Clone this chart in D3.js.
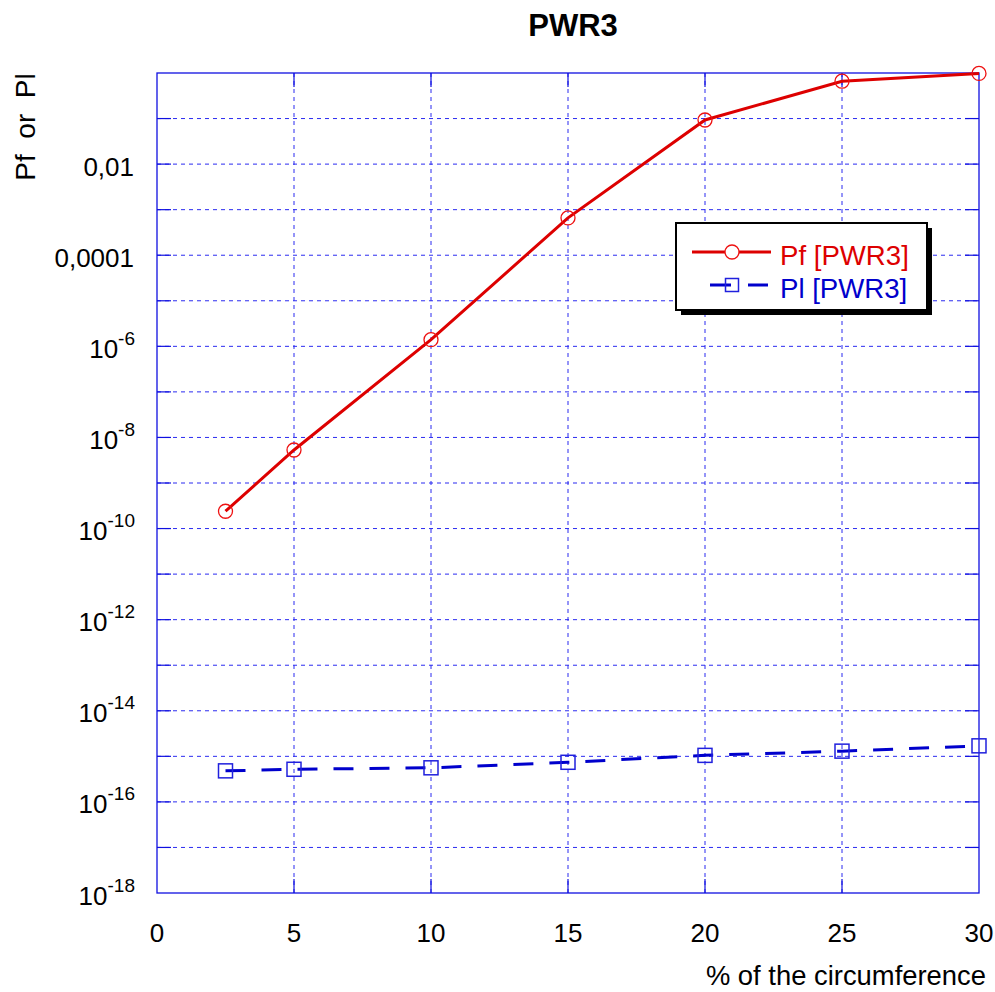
<!DOCTYPE html>
<html>
<head>
<meta charset="utf-8">
<script src="https://cdn.jsdelivr.net/npm/d3@7"></script>
<style>
  html, body { margin: 0; padding: 0; background: #fff; }
  svg { display: block; font-family: "Liberation Sans", Arial, sans-serif; }
</style>
</head>
<body>
<svg id="chart" width="995" height="992"></svg>
<script>
// Percent of the circumference
const circumference = [2.5, 5, 10, 15, 20, 25, 30];
// Failure probability Pf [PWR3]
const pfValues = [2.4e-10, 5.3e-9, 1.4e-6, 6.6e-4, 0.093, 0.66, 0.98];
// Leak probability Pl [PWR3]
const plValues = [4.8e-16, 5.2e-16, 5.6e-16, 7.4e-16, 1.05e-15, 1.3e-15, 1.7e-15];

const xTicks = [0, 5, 10, 15, 20, 25, 30];
const yGridExponents = d3.range(-17, 0);
const yLabelExponents = [-2, -4, -6, -8, -10, -12, -14, -16, -18];
const seriesNames = ["Pf [PWR3]", "Pl [PWR3]"];

const svg = d3.select("#chart");
const plotLeft = 157, plotRight = 979, plotTop = 73, plotBottom = 893;
const x = d3.scaleLinear().domain([0, 30]).range([plotLeft, plotRight]);
const y = d3.scaleLog().domain([1e-18, 1]).range([plotBottom, plotTop]);

const gridColor = "#2b2bf0";
const axisColor = "#1010e0";

// grid
const grid = svg.append("g");
grid.selectAll("line.h").data(yGridExponents).join("line")
  .attr("x1", plotLeft).attr("x2", plotRight)
  .attr("y1", d => y(Math.pow(10, d))).attr("y2", d => y(Math.pow(10, d)))
  .attr("stroke", gridColor).attr("stroke-width", 1).attr("stroke-dasharray", "4,4");
grid.selectAll("line.v").data(xTicks.slice(1, -1)).join("line")
  .attr("x1", d => x(d)).attr("x2", d => x(d))
  .attr("y1", plotTop).attr("y2", plotBottom)
  .attr("stroke", gridColor).attr("stroke-width", 1).attr("stroke-dasharray", "4,4");

// inner tick marks
const tickLen = 14;
const ticks = svg.append("g").attr("stroke", axisColor).attr("stroke-width", 1.2);
yGridExponents.forEach(e => {
  const yy = y(Math.pow(10, e));
  ticks.append("line").attr("x1", plotLeft).attr("x2", plotLeft + tickLen).attr("y1", yy).attr("y2", yy);
  ticks.append("line").attr("x1", plotRight - tickLen).attr("x2", plotRight).attr("y1", yy).attr("y2", yy);
});
xTicks.slice(1, -1).forEach(t => {
  ticks.append("line").attr("x1", x(t)).attr("x2", x(t)).attr("y1", plotBottom).attr("y2", plotBottom - tickLen);
  ticks.append("line").attr("x1", x(t)).attr("x2", x(t)).attr("y1", plotTop).attr("y2", plotTop + tickLen);
});

// frame
svg.append("rect").attr("x", plotLeft).attr("y", plotTop)
  .attr("width", plotRight - plotLeft).attr("height", plotBottom - plotTop)
  .attr("fill", "none").attr("stroke", axisColor).attr("stroke-width", 1.3);

// x tick labels
svg.append("g").selectAll("text").data(xTicks).join("text")
  .attr("x", d => x(d)).attr("y", 942)
  .attr("text-anchor", "middle").attr("font-size", 26).attr("fill", "#000")
  .text(d => d);

// y tick labels
const yLab = svg.append("g").attr("font-size", 26).attr("fill", "#000");
yLabelExponents.forEach(e => {
  const yy = y(Math.pow(10, e));
  if (e >= -4) {
    yLab.append("text").attr("x", 134).attr("y", yy + 11.5).attr("text-anchor", "end")
      .text(e === -2 ? "0,01" : "0,0001");
  } else {
    const t = yLab.append("text").attr("x", 135).attr("y", yy + 11.5).attr("text-anchor", "end");
    t.append("tspan").text("10");
    t.append("tspan").attr("dy", -13).attr("font-size", 19).text(String(e));
  }
});

// title and axis titles
svg.append("text").attr("x", 573).attr("y", 36).attr("text-anchor", "middle")
  .attr("font-size", 31).attr("font-weight", "bold").text("PWR3");
svg.append("text").attr("x", 986).attr("y", 985).attr("text-anchor", "end")
  .attr("font-size", 27.4).text("% of the circumference");
svg.append("text").attr("transform", "translate(35,127) rotate(-90)")
  .attr("text-anchor", "middle").attr("font-size", 28).style("white-space", "pre")
  .text("Pf  or  Pl");

// series
const redColor = "#dd0000", blueColor = "#0000cc";
const pfData = circumference.map((c, i) => [c, pfValues[i]]);
const plData = circumference.map((c, i) => [c, plValues[i]]);
const line = d3.line().x(d => x(d[0])).y(d => y(d[1]));

svg.append("path").datum(plData).attr("d", line)
  .attr("fill", "none").attr("stroke", blueColor).attr("stroke-width", 3)
  .attr("stroke-dasharray", "20,16");
svg.append("g").selectAll("rect").data(plData).join("rect")
  .attr("x", d => x(d[0]) - 7).attr("y", d => y(d[1]) - 7)
  .attr("width", 14).attr("height", 14)
  .attr("fill", "none").attr("stroke", "#2020dd").attr("stroke-width", 1.5);

svg.append("path").datum(pfData).attr("d", line)
  .attr("fill", "none").attr("stroke", redColor).attr("stroke-width", 3);
svg.append("g").selectAll("circle").data(pfData).join("circle")
  .attr("cx", d => x(d[0])).attr("cy", d => y(d[1])).attr("r", 7)
  .attr("fill", "none").attr("stroke", "#ee1111").attr("stroke-width", 1.3);

// legend
const lg = svg.append("g");
lg.append("rect").attr("x", 681).attr("y", 228).attr("width", 251).attr("height", 87).attr("fill", "#000");
lg.append("rect").attr("x", 676).attr("y", 223).attr("width", 251).attr("height", 87)
  .attr("fill", "#fff").attr("stroke", "#000").attr("stroke-width", 2);
lg.append("line").attr("x1", 692).attr("x2", 771).attr("y1", 252).attr("y2", 252)
  .attr("stroke", redColor).attr("stroke-width", 3);
lg.append("circle").attr("cx", 732).attr("cy", 252).attr("r", 7)
  .attr("fill", "#fff").attr("stroke", "#ee1111").attr("stroke-width", 1.3);
lg.append("line").attr("x1", 710).attr("x2", 768).attr("y1", 285).attr("y2", 285)
  .attr("stroke", blueColor).attr("stroke-width", 3).attr("stroke-dasharray", "21,17");
lg.append("rect").attr("x", 725.5).attr("y", 278.5).attr("width", 13).attr("height", 13)
  .attr("fill", "none").attr("stroke", "#2020dd").attr("stroke-width", 1.5);
lg.append("text").attr("x", 780).attr("y", 265).attr("font-size", 27.6).attr("fill", redColor).text(seriesNames[0]);
lg.append("text").attr("x", 780).attr("y", 298).attr("font-size", 27.6).attr("fill", "#0000cc").text(seriesNames[1]);
</script>
</body>
</html>
